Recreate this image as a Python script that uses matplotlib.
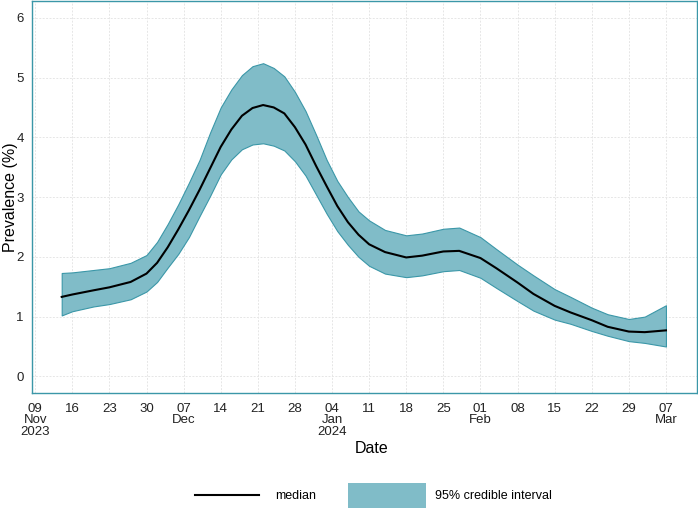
import numpy as np
import pandas as pd
import matplotlib
matplotlib.use("Agg")
import matplotlib.pyplot as plt
from matplotlib.patches import Patch
from matplotlib.lines import Line2D
from matplotlib.legend_handler import HandlerBase

plt.rcParams['font.family'] = ['Liberation Sans', 'DejaVu Sans']

# estimated prevalence (%)
dates = pd.to_datetime([
    "2023-11-14", "2023-11-16", "2023-11-20", "2023-11-23", "2023-11-27",
    "2023-11-30", "2023-12-02", "2023-12-04", "2023-12-06", "2023-12-08",
    "2023-12-10", "2023-12-12", "2023-12-14", "2023-12-16", "2023-12-18",
    "2023-12-20", "2023-12-22", "2023-12-24", "2023-12-26", "2023-12-28",
    "2023-12-30", "2024-01-01", "2024-01-03", "2024-01-05", "2024-01-07",
    "2024-01-09", "2024-01-11", "2024-01-14", "2024-01-18", "2024-01-21",
    "2024-01-25", "2024-01-28", "2024-02-01", "2024-02-04", "2024-02-08",
    "2024-02-11", "2024-02-15", "2024-02-18", "2024-02-22", "2024-02-25",
    "2024-02-29", "2024-03-03", "2024-03-07",
])
median = [1.33, 1.37, 1.44, 1.49, 1.58,
          1.72, 1.90, 2.16, 2.46, 2.78,
          3.12, 3.48, 3.84, 4.13, 4.36,
          4.49, 4.54, 4.50, 4.40, 4.17,
          3.88, 3.52, 3.18, 2.85, 2.58,
          2.37, 2.21, 2.08, 1.99, 2.02,
          2.09, 2.10, 1.98, 1.81, 1.57,
          1.38, 1.18, 1.07, 0.94, 0.83,
          0.75, 0.74, 0.77]
upper = [1.73, 1.74, 1.78, 1.81, 1.90,
         2.03, 2.25, 2.55, 2.88, 3.24,
         3.62, 4.08, 4.50, 4.80, 5.04,
         5.19, 5.24, 5.16, 5.02, 4.76,
         4.44, 4.04, 3.62, 3.27, 3.00,
         2.76, 2.61, 2.45, 2.36, 2.39,
         2.47, 2.49, 2.33, 2.13, 1.87,
         1.69, 1.46, 1.33, 1.15, 1.04,
         0.96, 1.00, 1.19]
lower = [1.02, 1.09, 1.17, 1.21, 1.29,
         1.42, 1.58, 1.82, 2.05, 2.33,
         2.68, 3.02, 3.38, 3.63, 3.80,
         3.88, 3.90, 3.86, 3.78, 3.60,
         3.36, 3.04, 2.72, 2.43, 2.20,
         2.00, 1.85, 1.72, 1.66, 1.69,
         1.76, 1.78, 1.65, 1.48, 1.26,
         1.10, 0.95, 0.88, 0.76, 0.68,
         0.59, 0.56, 0.50]

teal = "#3b97a8"
fill = "#80bcc8"


class ShortLine(HandlerBase):
    # legend line a bit shorter than the patch, like the original
    def create_artists(self, legend, orig_handle, xdescent, ydescent,
                       width, height, fontsize, trans):
        pad = 0.09 * width
        y = height / 2 - ydescent
        ln = Line2D([pad - xdescent, width - pad - xdescent], [y, y],
                    color="black", linewidth=1.5, transform=trans)
        return [ln]


fig = plt.figure(figsize=(6.98, 5.2), dpi=100)
ax = fig.add_axes([0.046, 0.244, 0.953, 0.754])

ax.fill_between(dates, lower, upper, facecolor=fill, edgecolor=teal, linewidth=0.8, zorder=2)
ax.plot(dates, median, color="black", linewidth=1.5, zorder=3)

ax.set_xlim(pd.Timestamp("2023-11-08 10:00"), pd.Timestamp("2024-03-12 22:00"))
ax.set_ylim(-0.28, 6.28)
ax.set_yticks(range(0, 7))

ticks = pd.date_range("2023-11-09", "2024-03-07", freq="7D")
labels = []
prev = None
for t in ticks:
    lab = t.strftime("%d")
    if prev is None or t.month != prev.month:
        lab += "\n" + t.strftime("%b")
    if prev is None or t.year != prev.year:
        lab += "\n" + t.strftime("%Y")
    labels.append(lab)
    prev = t
ax.set_xticks(ticks)
ax.set_xticklabels(labels, va="top", linespacing=0.95)

ax.tick_params(axis="both", length=0, labelsize=9.5, colors="#222222")
ax.tick_params(axis="x", pad=7)
ax.tick_params(axis="y", pad=6)
ax.grid(True, color="#e6e6e6", linestyle=(0, (2, 1.5)), linewidth=0.7, zorder=0)
ax.set_axisbelow(True)
for s in ax.spines.values():
    s.set_color(teal)
    s.set_linewidth(1.0)

ax.set_xlabel("Date", fontsize=11.5)
ax.xaxis.set_label_coords(0.51, -0.123)
ax.set_ylabel("Prevalence (%)", fontsize=11.5, va="center")
ax.yaxis.set_label_coords(-0.033, 0.5)

handles = [Line2D([], [], color="black", linewidth=1.5),
           Patch(facecolor=fill, edgecolor="none")]
fig.legend(handles, ["median", "95% credible interval"], loc="center",
           bbox_to_anchor=(0.53, 0.048), ncol=2, frameon=False, fontsize=9,
           handlelength=6.2, handleheight=2.7, columnspacing=2.6, handletextpad=0.7,
           handler_map={Line2D: ShortLine()})

fig.savefig("out.png", dpi=100)
